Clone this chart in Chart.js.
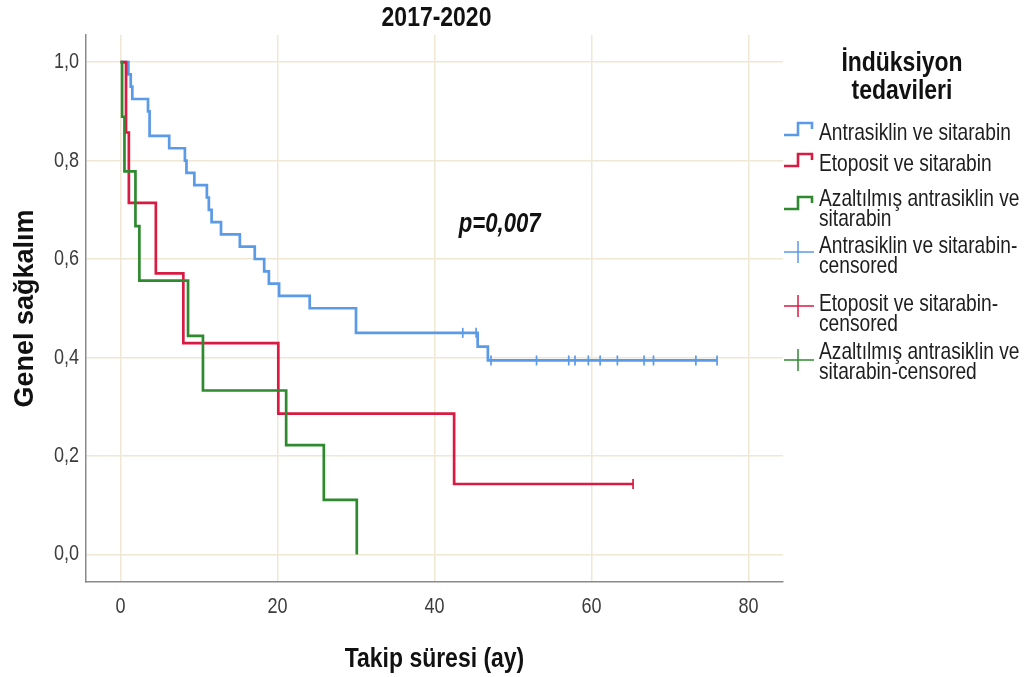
<!DOCTYPE html>
<html><head><meta charset="utf-8">
<script src="https://cdn.jsdelivr.net/npm/chart.js@4.4.1/dist/chart.umd.min.js"></script>
<style>
html,body{margin:0;padding:0;background:#fff;}
#wrap{position:relative;width:1025px;height:677px;overflow:hidden;background:#fff;}
#c{position:absolute;left:0;top:0;}
.lg{position:absolute;font-family:"Liberation Sans",Arial,sans-serif;color:#1e1e1e;font-size:23.4px;line-height:20px;white-space:nowrap;transform:scaleX(0.82);transform-origin:0 0;}
.lt{position:absolute;left:752px;width:300px;text-align:center;top:48px;font-family:"Liberation Sans",Arial,sans-serif;font-weight:bold;font-size:28px;line-height:28px;color:#111;transform:scaleX(0.82);transform-origin:50% 0;}
.ic{position:absolute;left:783px;}
</style>
</head><body>
<div id="wrap">
<canvas id="c" width="1025" height="677"></canvas>
<div class="lt">İndüksiyon<br>tedavileri</div>
<div id="legend"></div>
</div>
<script>
// ---- data ----
const chartTitle = '2017-2020';
const seriesNames = ['Antrasiklin ve sitarabin', 'Etoposit ve sitarabin', 'Azaltılmış antrasiklin ve sitarabin'];
const censorNames = ['Antrasiklin ve sitarabin-censored', 'Etoposit ve sitarabin-censored', 'Azaltılmış antrasiklin ve sitarabin-censored'];

const antraTime = [0, 1.0, 1.3, 1.5, 3.5, 3.7, 6.2, 8.2, 8.4, 9.4, 11.0, 11.25, 11.6, 12.8, 15.2, 17.1, 18.3, 18.9, 20.2, 24.1, 30.0, 45.5, 46.8, 76.0];
const antraSurv = [1.0, 0.975, 0.95, 0.925, 0.90, 0.85, 0.825, 0.80, 0.775, 0.75, 0.725, 0.70, 0.675, 0.65, 0.625, 0.60, 0.575, 0.55, 0.525, 0.50, 0.45, 0.422, 0.394, 0.394];
const antraCensTime = [43.6, 45.3, 47.2, 53.0, 57.1, 57.9, 59.6, 61.1, 63.3, 66.7, 67.9, 73.3, 76.0];
const antraCensSurv = [0.45, 0.45, 0.394, 0.394, 0.394, 0.394, 0.394, 0.394, 0.394, 0.394, 0.394, 0.394, 0.394];

const etoTime = [0, 0.7, 1.06, 4.5, 8.0, 20.1, 42.5, 65.3];
const etoSurv = [1.0, 0.857, 0.714, 0.571, 0.429, 0.286, 0.143, 0.143];
const etoCensTime = [65.3];
const etoCensSurv = [0.143];

const azTime = [0, 0.2, 0.5, 1.9, 2.4, 8.6, 10.5, 21.1, 25.9, 30.1];
const azSurv = [1.0, 0.889, 0.778, 0.667, 0.556, 0.444, 0.333, 0.222, 0.111, 0.0];
const azCensTime = [];
const azCensSurv = [];

const xTickValues = [0, 20, 40, 60, 80];
const xTickLabels = ['0', '20', '40', '60', '80'];
const yTickValues = [0, 0.2, 0.4, 0.6, 0.8, 1.0];
const yTickLabels = ['0,0', '0,2', '0,4', '0,6', '0,8', '1,0'];

const pText = 'p=0,007';
const pPos = [48.3, 0.669];

const colors = ['#5b9ae6', '#d81b43', '#2f8a2f'];

// ---- build ----
const FONT = '"Liberation Sans",Arial,sans-serif';
const SQ = 0.82; // horizontal squeeze of the reference's horizontal text
const toPts = (xs, ys) => xs.map((x, i) => ({x: x, y: ys[i]}));

const cv = document.getElementById('c');
const cx = cv.getContext('2d');
const origFill = cx.fillText;
cx.fillText = function(text, x, y) {
  const m = this.getTransform();
  if (Math.abs(m.b) > 1e-6) { origFill.call(this, text, x, y); return; }
  const px = m.a * x + m.c * y + m.e, py = m.b * x + m.d * y + m.f;
  this.save();
  this.setTransform(new DOMMatrix().translate(px, py).scale(SQ, 1).translate(-px, -py).multiply(m));
  origFill.call(this, text, x, y);
  this.restore();
};

function stepDs(label, xs, ys, color, order) {
  return {label, data: toPts(xs, ys), borderColor: color, backgroundColor: color, borderWidth: 2.7,
    stepped: true, pointRadius: 0, fill: false, order, borderJoinStyle: 'miter', borderCapStyle: 'butt'};
}
function censDs(label, xs, ys, color, order) {
  return {label, data: toPts(xs, ys), borderColor: color, backgroundColor: color, showLine: false,
    pointStyle: 'line', pointRotation: 90, pointRadius: 5, pointBorderWidth: 1.7, order};
}

const datasets = [
  stepDs(seriesNames[0], antraTime, antraSurv, colors[0], 6),
  stepDs(seriesNames[1], etoTime, etoSurv, colors[1], 5),
  stepDs(seriesNames[2], azTime, azSurv, colors[2], 4),
  censDs(censorNames[0], antraCensTime, antraCensSurv, colors[0], 3),
  censDs(censorNames[1], etoCensTime, etoCensSurv, colors[1], 2),
  censDs(censorNames[2], azCensTime, azCensSurv, colors[2], 1)
];

const texts = {
  id: 'texts',
  afterDatasetsDraw(chart) {
    const {ctx, chartArea, scales: {x, y}} = chart;
    ctx.save();
    ctx.fillStyle = '#111';
    ctx.textAlign = 'center';
    ctx.textBaseline = 'middle';
    ctx.font = 'italic bold 27px ' + FONT;
    ctx.fillText(pText, x.getPixelForValue(pPos[0]), y.getPixelForValue(pPos[1]));
    ctx.font = 'bold 28px ' + FONT;
    ctx.fillText(chartTitle, (chartArea.left + chartArea.right) / 2 + 2, chartArea.top - 17);
    ctx.restore();
  }
};

new Chart(cv, {
  type: 'line',
  data: {datasets},
  plugins: [texts],
  options: {
    responsive: false, animation: false,
    layout: {padding: {left: 0, right: 242, top: 35, bottom: 0}},
    plugins: {legend: {display: false}, tooltip: {enabled: false}, title: {display: false}},
    scales: {
      x: {
        type: 'linear', min: -4.4, max: 84.4,
        afterBuildTicks(s) { s.ticks = xTickValues.map(v => ({value: v})); },
        afterFit(s) { s.height = 95; },
        ticks: {callback: (v, i) => xTickLabels[i], font: {family: FONT, size: 22}, color: '#3c3c3c', padding: 12, maxRotation: 0, autoSkip: false},
        grid: {color: '#eee8d5', lineWidth: 1.5, drawTicks: false},
        border: {color: '#8a8a8a', width: 1.5},
        title: {display: true, text: 'Takip süresi (ay)', color: '#111',
          font: {family: FONT, size: 28, weight: 'bold'}, padding: {top: 0, bottom: 1}}
      },
      y: {
        type: 'linear', min: -0.056, max: 1.055,
        afterBuildTicks(s) { s.ticks = yTickValues.map(v => ({value: v})); },
        afterFit(s) { s.width = 86; },
        ticks: {callback: (v, i) => yTickLabels[i], font: {family: FONT, size: 22}, color: '#3c3c3c', padding: 7, autoSkip: false},
        grid: {color: '#eee8d5', lineWidth: 1.5, drawTicks: false},
        border: {color: '#8a8a8a', width: 1.5},
        title: {display: true, text: 'Genel sağkalım', color: '#111',
          font: {family: FONT, size: 27, weight: 'bold'}, padding: {top: 9, bottom: 0}}
      }
    }
  }
});

// ---- HTML legend ----
const legendItems = [
  {lines: [seriesNames[0]], top: 122, icon: 'step', iconTop: 118, color: colors[0]},
  {lines: [seriesNames[1]], top: 153, icon: 'step', iconTop: 149, color: colors[1]},
  {lines: ['Azaltılmış antrasiklin ve', 'sitarabin'], top: 188, icon: 'step', iconTop: 192, color: colors[2]},
  {lines: ['Antrasiklin ve sitarabin-', 'censored'], top: 235, icon: 'cross', iconTop: 240, color: colors[0]},
  {lines: ['Etoposit ve sitarabin-', 'censored'], top: 293, icon: 'cross', iconTop: 294, color: colors[1]},
  {lines: ['Azaltılmış antrasiklin ve', 'sitarabin-censored'], top: 341, icon: 'cross', iconTop: 348, color: colors[2]}
];
const lg = document.getElementById('legend');
legendItems.forEach(it => {
  const d = document.createElement('div');
  d.className = 'lg';
  d.style.left = '819px';
  d.style.top = it.top + 'px';
  d.innerHTML = it.lines.join('<br>');
  lg.appendChild(d);
  const ic = document.createElement('div');
  ic.className = 'ic';
  ic.style.top = it.iconTop + 'px';
  if (it.icon === 'step') {
    ic.innerHTML = '<svg width="32" height="20"><path d="M1,17 L15,17 L15,5 L29,5 L29,11" fill="none" stroke="' + it.color + '" stroke-width="2.6" stroke-linejoin="miter"/></svg>';
  } else {
    ic.innerHTML = '<svg width="32" height="24"><path d="M1,12 L31,12 M15,1 L15,23" fill="none" stroke="' + it.color + '" stroke-width="1.5"/></svg>';
  }
  lg.appendChild(ic);
});
</script>
</body></html>
